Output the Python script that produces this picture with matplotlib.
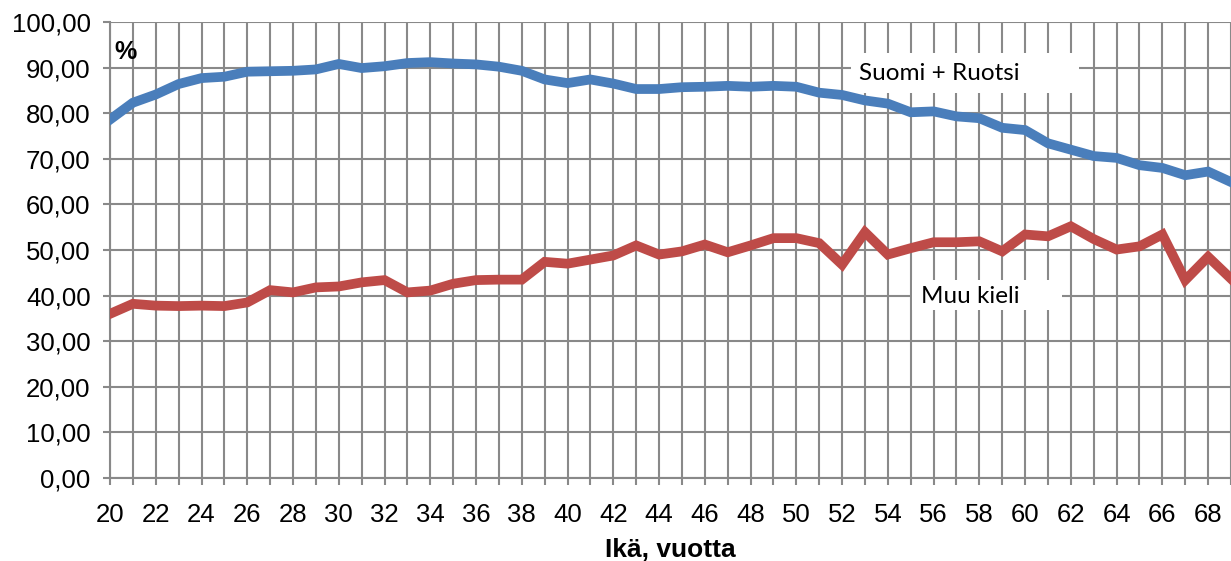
import numpy as np
import matplotlib.pyplot as plt
from matplotlib.patches import Rectangle

ages = np.arange(20, 70)
suomi_ruotsi = [78.6, 82.3, 84.1, 86.4, 87.7, 88.0, 89.1, 89.2, 89.3, 89.6,
                90.8, 89.9, 90.3, 91.0, 91.2, 90.9, 90.7, 90.2, 89.3, 87.4,
                86.6, 87.4, 86.5, 85.3, 85.3, 85.7, 85.8, 86.0, 85.8, 86.0,
                85.8, 84.5, 84.0, 82.8, 82.1, 80.2, 80.4, 79.3, 78.9, 76.8,
                76.3, 73.4, 72.0, 70.6, 70.2, 68.6, 68.0, 66.4, 67.2, 64.9]
muu_kieli = [36.0, 38.2, 37.8, 37.7, 37.8, 37.7, 38.5, 41.2, 40.7, 41.8,
             42.0, 42.9, 43.4, 40.7, 41.1, 42.6, 43.4, 43.5, 43.5, 47.4,
             47.0, 47.9, 48.8, 51.0, 49.0, 49.7, 51.2, 49.5, 51.0, 52.6,
             52.6, 51.5, 46.8, 53.9, 49.0, 50.4, 51.7, 51.7, 51.9, 49.7,
             53.4, 53.0, 55.2, 52.4, 50.1, 50.8, 53.4, 43.4, 48.5, 43.7]

grid_c = '#898989'
fig = plt.figure(figsize=(12.31, 5.61), dpi=100)
ax = fig.add_axes([110 / 1231, 83 / 561, 1 - 110 / 1231, 456 / 561])

ax.plot(ages, suomi_ruotsi, color='#4A7EBB', lw=7, solid_joinstyle='miter', zorder=3)
ax.plot(ages, muu_kieli, color='#BE4B48', lw=7, solid_joinstyle='miter', zorder=3)

ax.set_xlim(20, 69)
ax.set_ylim(0, 100)
ax.set_xticks(ages)
ax.set_xticklabels([str(a) if a % 2 == 0 else '' for a in ages])
ax.set_yticks(np.arange(0, 101, 10))
ax.set_yticklabels([f'{v},00' for v in range(0, 101, 10)])
ax.grid(True, color=grid_c, lw=1.5, zorder=1)
ax.tick_params(axis='both', length=5, width=1.5, color=grid_c, labelsize=18.5)
ax.tick_params(axis='x', pad=13)
ax.tick_params(axis='y', pad=9)
for s in ['top', 'right']:
    ax.spines[s].set_visible(False)
for s in ['left', 'bottom']:
    ax.spines[s].set_color(grid_c)
    ax.spines[s].set_linewidth(1.5)
for lab in ax.get_xticklabels() + ax.get_yticklabels():
    lab.set_fontfamily('Liberation Sans')

ax.set_xlabel('Ikä, vuotta', fontsize=19, fontweight='bold',
              fontfamily='Liberation Sans', labelpad=8)
ax.text(20.2, 93.5, '%', fontsize=18, fontweight='bold',
        fontfamily='Liberation Sans', va='center', ha='left')

# white label boxes
ax.add_patch(Rectangle((52.4, 84.4), 9.95, 8.8, facecolor='white',
                       edgecolor='none', zorder=2))
ax.add_patch(Rectangle((55.07, 36.8), 6.55, 6.6, facecolor='white',
                       edgecolor='none', zorder=2))
ax.text(52.75, 88.6, 'Suomi + Ruotsi', fontsize=17.5, fontfamily='Lato',
        va='center', ha='left', zorder=4)
ax.text(55.46, 39.9, 'Muu kieli', fontsize=17.5, fontfamily='Lato',
        va='center', ha='left', zorder=4)

fig.savefig('out.png', dpi=100)
